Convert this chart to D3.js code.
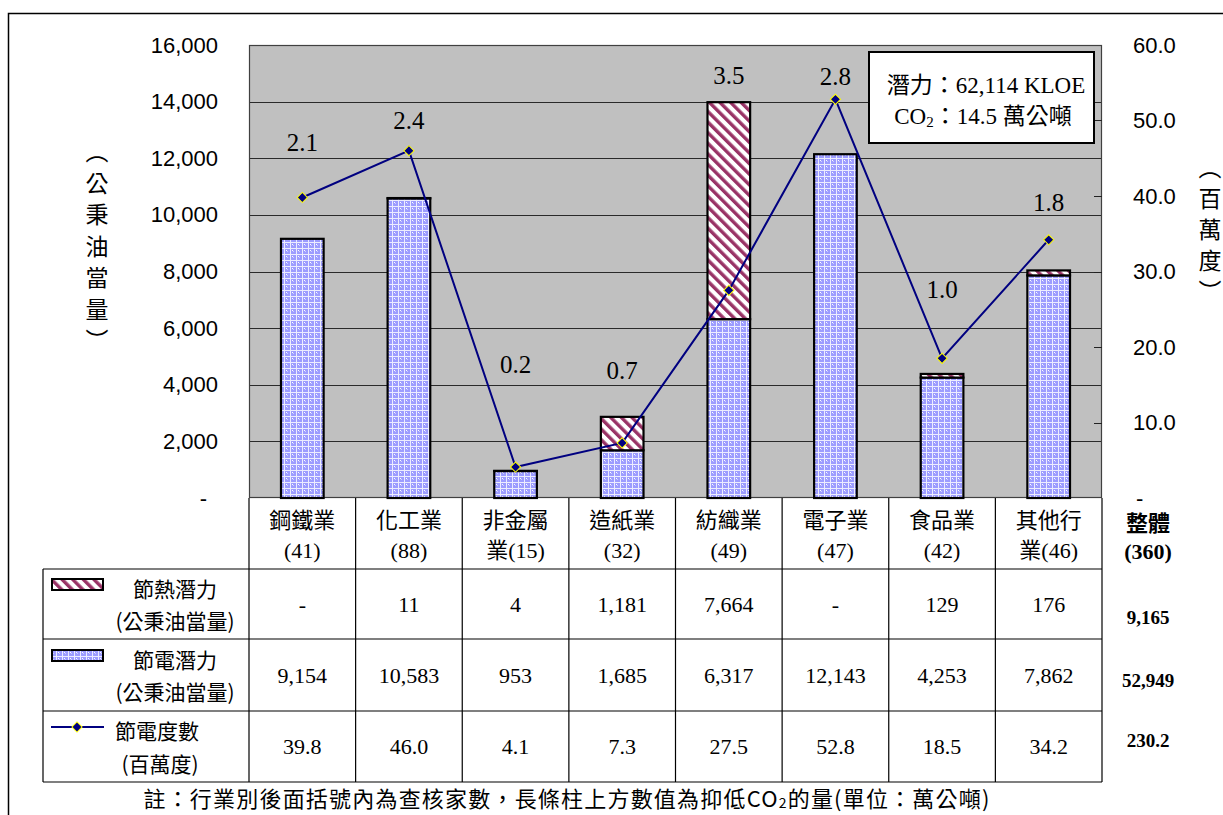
<!DOCTYPE html>
<html>
<head>
<meta charset="utf-8">
<script src="https://cdn.jsdelivr.net/npm/d3@7"></script>
<style>
  body { margin: 0; background: #fff; }
  svg { display: block; }
</style>
</head>
<body>
<svg id="chart" width="1223" height="815"></svg>
<script>
// ---- data ----
const categories = ["鋼鐵業", "化工業", "非金屬業", "造紙業", "紡織業", "電子業", "食品業", "其他行業"];
const headerLines = [["鋼鐵業", "(41)"], ["化工業", "(88)"], ["非金屬", "業(15)"], ["造紙業", "(32)"],
                     ["紡織業", "(49)"], ["電子業", "(47)"], ["食品業", "(42)"], ["其他行", "業(46)"]];
const heatSaving = [0, 11, 4, 1181, 7664, 0, 129, 176];            // 節熱潛力 (公秉油當量)
const elecSaving = [9154, 10583, 953, 1685, 6317, 12143, 4253, 7862]; // 節電潛力 (公秉油當量)
const powerSaving = [39.8, 46.0, 4.1, 7.3, 27.5, 52.8, 18.5, 34.2];  // 節電度數 (百萬度)
const co2Reduction = [2.1, 2.4, 0.2, 0.7, 3.5, 2.8, 1.0, 1.8];       // 萬公噸
const leftTicks = [0, 2000, 4000, 6000, 8000, 10000, 12000, 14000, 16000];
const rightTicks = [0, 10, 20, 30, 40, 50, 60];
const totalHeader = ["整體", "(360)"];
const totalValues = ["9,165", "52,949", "230.2"];

// ---- layout ----
const svg = d3.select("#chart");
const L = 249, R = 1102, T = 45, B = 498;
const rowEdges = [498, 569, 639, 711, 782];
const tableLeft = 43;

const SERIF = "'Liberation Serif','Noto Sans CJK TC',serif";
const SANS = "'Liberation Sans','Noto Sans CJK TC',sans-serif";
const CJK = "'Noto Sans CJK TC','Liberation Serif',serif";

const x = d3.scaleBand().domain(categories).range([L, R]).paddingInner(0.6).paddingOuter(0.3);
const step = x.step();
const yL = d3.scaleLinear().domain([0, 16000]).range([B, T]);
const yR = d3.scaleLinear().domain([0, 60]).range([B, T]);

// ---- patterns ----
const defs = svg.append("defs");
const pe = defs.append("pattern").attr("id", "elecFill").attr("patternUnits", "userSpaceOnUse")
  .attr("width", 6).attr("height", 6);
pe.append("rect").attr("width", 6).attr("height", 6).attr("fill", "#9c9cff");
pe.append("rect").attr("x", 0).attr("y", 2).attr("width", 6).attr("height", 1).attr("fill", "#ececff");
pe.append("rect").attr("x", 2).attr("y", 0).attr("width", 1).attr("height", 6).attr("fill", "#ececff");
pe.append("rect").attr("x", 4).attr("y", 4).attr("width", 1).attr("height", 1).attr("fill", "#ffffff");
pe.append("rect").attr("x", 5).attr("y", 5).attr("width", 1).attr("height", 1).attr("fill", "#cfcfff");

const ph = defs.append("pattern").attr("id", "heatFill").attr("patternUnits", "userSpaceOnUse")
  .attr("width", 7.5).attr("height", 7.5).attr("patternTransform", "rotate(-45)");
ph.append("rect").attr("width", 7.5).attr("height", 7.5).attr("fill", "#ffffff");
ph.append("rect").attr("x", 0).attr("width", 3.4).attr("height", 7.5).attr("fill", "#993366");

// ---- outer frame ----
svg.append("rect").attr("x", 8.5).attr("y", 13.5).attr("width", 1240).attr("height", 900)
  .attr("fill", "none").attr("stroke", "#000").attr("stroke-width", 1.5);

// ---- plot area ----
svg.append("rect").attr("x", L).attr("y", T).attr("width", R - L).attr("height", B - T)
  .attr("fill", "#c0c0c0");

svg.append("g").selectAll("line").data(leftTicks.filter(d => d > 0)).join("line")
  .attr("x1", L).attr("x2", R).attr("y1", d => Math.round(yL(d)) + 0.5).attr("y2", d => Math.round(yL(d)) + 0.5)
  .attr("stroke", "#2a2a2a").attr("stroke-width", 1);

svg.append("rect").attr("x", L + 0.5).attr("y", T + 0.5).attr("width", R - L - 1).attr("height", B - T - 1)
  .attr("fill", "none").attr("stroke", "#404040").attr("stroke-width", 1.2);

// inner tick marks on the right axis
svg.append("g").selectAll("line").data(rightTicks.filter(d => d > 0 && d < 60)).join("line")
  .attr("x1", R - 8).attr("x2", R).attr("y1", d => Math.round(yR(d)) + 0.5).attr("y2", d => Math.round(yR(d)) + 0.5)
  .attr("stroke", "#222").attr("stroke-width", 1);

// ---- axes ----
const axL = svg.append("g").attr("transform", `translate(${L},0)`)
  .call(d3.axisLeft(yL).tickValues(leftTicks).tickSize(0).tickPadding(31)
    .tickFormat(d => d === 0 ? "-" : d3.format(",")(d)));
axL.select(".domain").remove();
axL.selectAll("text").attr("font-family", SANS).attr("font-size", 22).attr("fill", "#000")
  .filter(d => d === 0).attr("dx", -11);

const axR = svg.append("g").attr("transform", `translate(${R},0)`)
  .call(d3.axisRight(yR).tickValues(rightTicks).tickSize(0).tickPadding(31)
    .tickFormat(d => d === 0 ? "-" : d3.format(".1f")(d)));
axR.select(".domain").remove();
axR.selectAll("text").attr("font-family", SANS).attr("font-size", 22).attr("fill", "#000")
  .filter(d => d === 0).attr("dx", 3);

// vertical axis titles
function verticalTitle(chars, cx, y0, gap) {
  svg.append("g").selectAll("text").data(chars).join("text")
    .attr("x", cx).attr("y", (d, i) => y0 + i * gap)
    .attr("text-anchor", "middle").attr("dominant-baseline", "central")
    .attr("font-family", CJK).attr("font-size", 23).attr("fill", "#000")
    .text(d => d);
}
verticalTitle(["︵", "公", "秉", "油", "當", "量", "︶"], 97, 150, 31.5);
verticalTitle(["︵", "百", "萬", "度", "︶"], 1210, 166, 31);

// ---- bars ----
const bars = svg.append("g");
bars.selectAll("rect.elec").data(categories).join("rect").attr("class", "elec")
  .attr("x", d => x(d)).attr("width", x.bandwidth())
  .attr("y", (d, i) => yL(elecSaving[i])).attr("height", (d, i) => yL(0) - yL(elecSaving[i]))
  .attr("fill", "url(#elecFill)").attr("stroke", "#000").attr("stroke-width", 2.2);
bars.selectAll("rect.heat").data(categories.filter((d, i) => heatSaving[i] > 0)).join("rect").attr("class", "heat")
  .attr("x", d => x(d)).attr("width", x.bandwidth())
  .attr("y", d => { const i = categories.indexOf(d); return yL(elecSaving[i] + heatSaving[i]); })
  .attr("height", d => { const i = categories.indexOf(d); return yL(elecSaving[i]) - yL(elecSaving[i] + heatSaving[i]); })
  .attr("fill", "url(#heatFill)").attr("stroke", "#000").attr("stroke-width", 2.2);

// ---- line: 節電度數 ----
const cx = d => x(d) + x.bandwidth() / 2;
const line = d3.line().x(d => cx(d)).y((d, i) => yR(powerSaving[i]));
svg.append("path").datum(categories).attr("d", line)
  .attr("fill", "none").attr("stroke", "#000080").attr("stroke-width", 2);
const diamond = d3.symbol().type(d3.symbolSquare).size(52);
svg.append("g").selectAll("path").data(categories).join("path")
  .attr("d", diamond)
  .attr("transform", (d, i) => `translate(${cx(d)},${yR(powerSaving[i])}) rotate(45)`)
  .attr("fill", "#000080").attr("stroke", "#ffff00").attr("stroke-width", 1);

// ---- CO2 labels (placed at annotation heights on the left scale) ----
const co2LabelLevel = [12540, 13320, 4700, 4520, 14940, 14870, 7380, 10420];
svg.append("g").selectAll("text").data(categories).join("text")
  .attr("x", d => cx(d)).attr("y", (d, i) => yL(co2LabelLevel[i]))
  .attr("text-anchor", "middle").attr("dominant-baseline", "central")
  .attr("font-family", SERIF).attr("font-size", 25).attr("fill", "#000")
  .text((d, i) => d3.format(".1f")(co2Reduction[i]));

// ---- summary box ----
svg.append("rect").attr("x", 869).attr("y", 52).attr("width", 225).attr("height", 91)
  .attr("fill", "#fff").attr("stroke", "#000").attr("stroke-width", 2);
svg.append("text").attr("x", 986).attr("y", 85).attr("text-anchor", "middle").attr("dominant-baseline", "central")
  .attr("font-family", SERIF).attr("font-size", 23).attr("fill", "#000")
  .text("潛力：62,114 KLOE");
const co2t = svg.append("text").attr("x", 983).attr("y", 116).attr("text-anchor", "middle").attr("dominant-baseline", "central")
  .attr("font-family", SERIF).attr("font-size", 23).attr("fill", "#000");
co2t.append("tspan").text("CO");
co2t.append("tspan").attr("font-size", 15).attr("dy", 6).text("2");
co2t.append("tspan").attr("dy", -6).text("：14.5 萬公噸");

// ---- data table ----
const tbl = svg.append("g").attr("stroke", "#000").attr("stroke-width", 1.2);
// horizontal rules
rowEdges.slice(1).forEach(yv => {
  tbl.append("line").attr("x1", tableLeft).attr("x2", R).attr("y1", yv).attr("y2", yv);
});
// vertical rules
const colEdges = categories.map(d => x(d) - (step - x.bandwidth()) / 2).concat([R]);
colEdges.forEach(xv => {
  tbl.append("line").attr("x1", xv).attr("x2", xv).attr("y1", B).attr("y2", rowEdges[4]);
});
tbl.append("line").attr("x1", tableLeft).attr("x2", tableLeft).attr("y1", rowEdges[1]).attr("y2", rowEdges[4]);

// header cells
const hdr = svg.append("g");
categories.forEach((c, i) => {
  headerLines[i].forEach((t, k) => {
    hdr.append("text").attr("x", cx(c)).attr("y", 520 + k * 30)
      .attr("text-anchor", "middle").attr("dominant-baseline", "central")
      .attr("font-family", SERIF).attr("font-size", 22).attr("fill", "#000").text(t);
  });
});

// value rows
const rows = [
  heatSaving.map(v => v === 0 ? "-" : d3.format(",")(v)),
  elecSaving.map(v => d3.format(",")(v)),
  powerSaving.map(v => d3.format(".1f")(v))
];
rows.forEach((vals, r) => {
  const ym = (rowEdges[r + 1] + rowEdges[r + 2]) / 2;
  svg.append("g").selectAll("text").data(categories).join("text")
    .attr("x", d => cx(d)).attr("y", ym)
    .attr("text-anchor", "middle").attr("dominant-baseline", "central")
    .attr("font-family", SERIF).attr("font-size", 22).attr("fill", "#000")
    .text((d, i) => vals[i]);
});

// row legends
const lg = svg.append("g");
lg.append("rect").attr("x", 52).attr("y", 579).attr("width", 51).attr("height", 11)
  .attr("fill", "url(#heatFill)").attr("stroke", "#000").attr("stroke-width", 2);
lg.append("rect").attr("x", 52).attr("y", 650).attr("width", 51).attr("height", 11)
  .attr("fill", "url(#elecFill)").attr("stroke", "#000").attr("stroke-width", 2);
lg.append("line").attr("x1", 51).attr("x2", 104).attr("y1", 727).attr("y2", 727)
  .attr("stroke", "#000080").attr("stroke-width", 2);
lg.append("path").attr("d", diamond).attr("transform", "translate(77,727) rotate(45)")
  .attr("fill", "#000080").attr("stroke", "#ffff00").attr("stroke-width", 1);

const legendText = [
  ["節熱潛力", 175, 588], ["(公秉油當量)", 175, 620],
  ["節電潛力", 175, 659], ["(公秉油當量)", 175, 691],
  ["節電度數", 157, 730], ["(百萬度)", 160, 763]
];
legendText.forEach(([t, xx, yy]) => {
  lg.append("text").attr("x", xx).attr("y", yy).attr("text-anchor", "middle").attr("dominant-baseline", "central")
    .attr("font-family", CJK).attr("font-size", 21).attr("fill", "#000").text(t);
});

// overall totals column
const tot = svg.append("g").attr("font-family", SERIF).attr("font-weight", "bold").attr("fill", "#000");
totalHeader.forEach((t, k) => {
  tot.append("text").attr("x", 1148).attr("y", 523 + k * 28).attr("text-anchor", "middle")
    .attr("dominant-baseline", "central").attr("font-size", 22).text(t);
});
[617, 680, 740].forEach((yy, k) => {
  tot.append("text").attr("x", 1148).attr("y", yy).attr("text-anchor", "middle")
    .attr("dominant-baseline", "central").attr("font-size", 19).text(totalValues[k]);
});

// footnote
const note = svg.append("text").attr("x", 567).attr("y", 797).attr("text-anchor", "middle")
  .attr("dominant-baseline", "central").attr("font-family", CJK).attr("font-size", 22)
  .attr("letter-spacing", 1.2).attr("fill", "#000");
note.append("tspan").text("註：行業別後面括號內為查核家數，長條柱上方數值為抑低CO");
note.append("tspan").attr("font-size", 14).attr("dy", 5).text("2");
note.append("tspan").attr("dy", -5).text("的量(單位：萬公噸)");
</script>
</body>
</html>
